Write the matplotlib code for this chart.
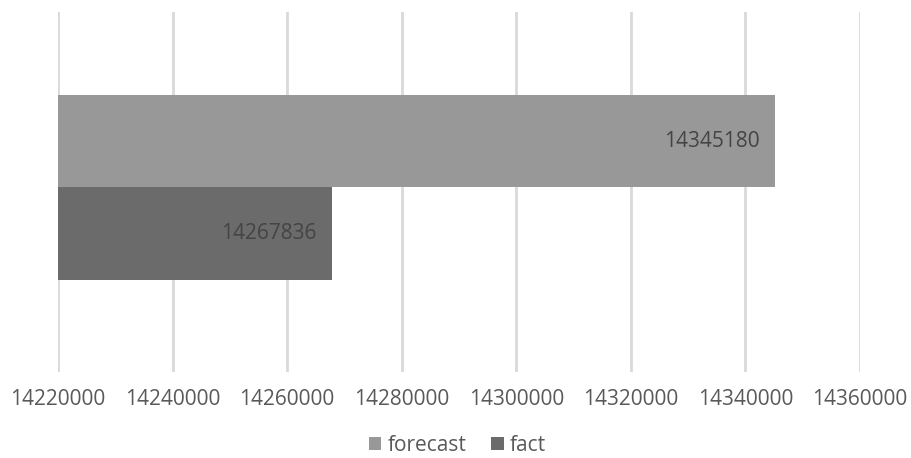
import matplotlib
matplotlib.use("Agg")
import matplotlib.pyplot as plt
from matplotlib.ticker import FuncFormatter

series = ["forecast", "fact"]
values = [14345180, 14267836]
colors = ["#989898", "#6b6b6b"]
xticks = [14220000, 14240000, 14260000, 14280000, 14300000, 14320000, 14340000, 14360000]

plt.rcParams["font.family"] = ["Open Sans", "DejaVu Sans"]

fig = plt.figure(figsize=(9.11, 4.58), dpi=100)
ax = fig.add_axes([0.0637, 0.188, 0.8803, 0.786])

h = 0.257
offs = [h / 2, -h / 2]
for name, v, c, o in zip(series, values, colors, offs):
    ax.barh(o, v - xticks[0], left=xticks[0], height=h, color=c, label=name, zorder=2)
    ax.annotate(f"{v}", xy=(v, o), xytext=(-11, 0), textcoords="offset points",
                ha="right", va="center", fontsize=15, color="#444444", zorder=3)

ax.set_xlim(xticks[0], xticks[-1])
ax.set_ylim(-0.5125, 0.4875)
ax.set_xticks(xticks)
ax.xaxis.set_major_formatter(FuncFormatter(lambda x, p: f"{int(x)}"))
ax.set_yticks([])
ax.grid(axis="x", color="#d9d9d9", linewidth=2, zorder=0)
for s in ax.spines.values():
    s.set_visible(False)
ax.tick_params(axis="x", length=0, pad=12, labelsize=15, labelcolor="#595959")

fig.legend(*ax.get_legend_handles_labels(), loc="center", bbox_to_anchor=(0.502, 0.028),
           ncol=2, frameon=False, fontsize=15, labelcolor="#595959", handlelength=0.6,
           handleheight=0.6, handletextpad=0.3, columnspacing=1.2, borderpad=0.1)

fig.savefig("out.png", dpi=100)
